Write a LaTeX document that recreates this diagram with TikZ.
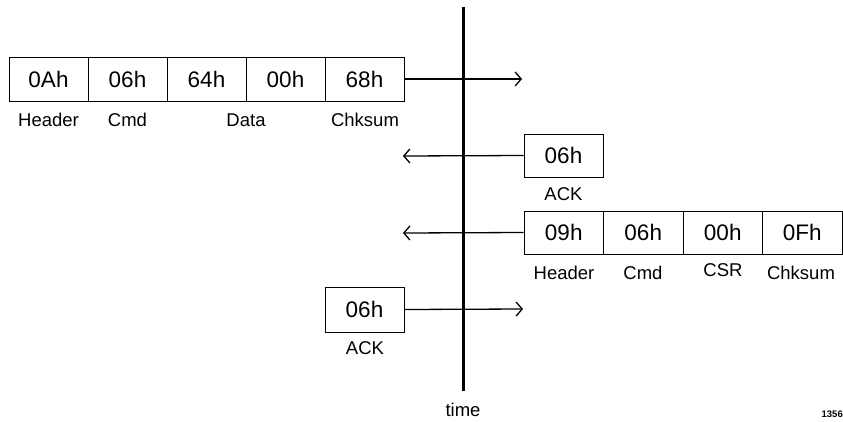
\documentclass[tikz,border=0pt]{standalone}
\usepackage{fontspec}
\setmainfont{Liberation Sans}
\usetikzlibrary{arrows.meta}
\begin{document}
\begin{tikzpicture}[x=1pt,y=-1pt,
  cell/.style={draw,line width=1pt,minimum height=44pt,inner sep=0pt,font=\fontsize{22.5}{26}\selectfont},
  lbl/.style={inner sep=0pt,anchor=base,font=\fontsize{18.5}{21}\selectfont},
  msg/.style={line width=1.3pt,-{Straight Barb[length=6pt,width=14pt,line width=1.3pt]}},
  timeline/.style={line width=3pt}]
\useasboundingbox (0,0) rectangle (843,421);
% timeline
\coordinate (tTop) at (463,7);
\coordinate (tBot) at (463,391);
\draw[timeline] (tTop) -- (tBot);
% request
\node[cell,minimum width=79pt] (a1) at (48.5,79) {0Ah};
\node[cell,minimum width=79pt] (a2) at (127.5,79) {06h};
\node[cell,minimum width=79pt] (a3) at (206.5,79) {64h};
\node[cell,minimum width=79pt] (a4) at (285.5,79) {00h};
\node[cell,minimum width=79pt] (a5) at (364.5,79) {68h};
\node[lbl] (la1) at (48.5,126) {Header};
\node[lbl] (la2) at (127.5,126) {Cmd};
\node[lbl] (la3) at (246,126) {Data};
\node[lbl] (la5) at (365,126) {Chksum};
\coordinate (e1) at (522,79);
\draw[msg] (a5.east) -- (e1);
% ack 1
\node[cell,minimum width=79pt,minimum height=43pt] (k1) at (563.5,155.5) {06h};
\node[lbl] (lk1) at (563.5,200) {ACK};
\coordinate (e2) at (403,156);
\draw[msg] (k1.west) -- (e2);
% response
\node[cell,minimum width=79.5pt,minimum height=43pt] (b1) at (563.75,232.5) {09h};
\node[cell,minimum width=79.5pt,minimum height=43pt] (b2) at (643.25,232.5) {06h};
\node[cell,minimum width=79.5pt,minimum height=43pt] (b3) at (722.75,232.5) {00h};
\node[cell,minimum width=79.5pt,minimum height=43pt] (b4) at (802.25,232.5) {0Fh};
\node[lbl] (lb1) at (564,279) {Header};
\node[lbl] (lb2) at (643,279) {Cmd};
\node[lbl] (lb3) at (723,276) {CSR};
\node[lbl] (lb4) at (801,279) {Chksum};
\coordinate (e3) at (403,233);
\draw[msg] (b1.west) -- (e3);
% ack 2
\node[cell,minimum width=79pt,minimum height=45pt] (k2) at (364.5,309.5) {06h};
\node[lbl] (lk2) at (365,354) {ACK};
\coordinate (e4) at (523,309);
\draw[msg] (k2.east) -- (e4);
% labels
\node[lbl] (time) at (463,416) {time};
\node[inner sep=0pt,anchor=base east,font=\fontsize{9.5}{11}\selectfont\bfseries] (fig) at (843,417) {1356};
\end{tikzpicture}
\end{document}
